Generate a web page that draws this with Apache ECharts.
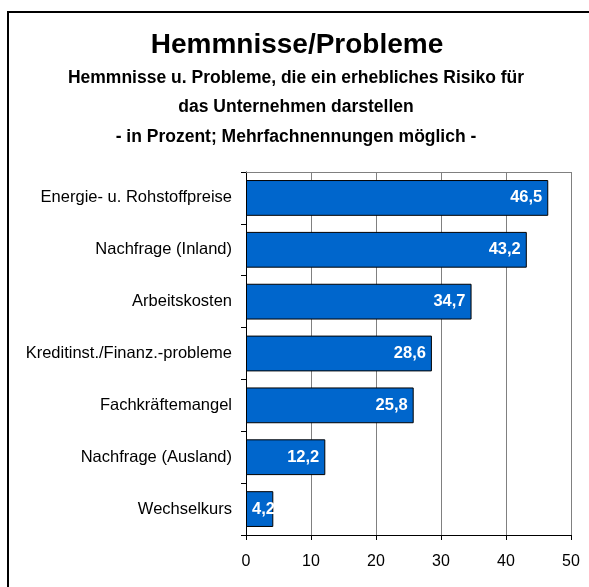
<!DOCTYPE html>
<html>
<head>
<meta charset="utf-8">
<script src="https://cdn.jsdelivr.net/npm/echarts@6/dist/echarts.min.js"></script>
<style>
  html, body { margin: 0; height: 100%; background: #fff; }
  #main { width: 589px; height: 587px; }
</style>
</head>
<body>
<div id="main"></div>
<script>
// categories, top to bottom
var categories = ['Energie- u. Rohstoffpreise', 'Nachfrage (Inland)', 'Arbeitskosten',
  'Kreditinst./Finanz.-probleme', 'Fachkräftemangel', 'Nachfrage (Ausland)', 'Wechselkurs'];
var values = [46.5, 43.2, 34.7, 28.6, 25.8, 12.2, 4.2];
var xTicks = [0, 10, 20, 30, 40, 50];

var titleLines = ['Hemmnisse u. Probleme, die ein erhebliches Risiko für',
  'das Unternehmen darstellen', '- in Prozent; Mehrfachnennungen möglich -'];

var chart = echarts.init(document.getElementById('main'));
var font = 'Liberation Sans, Arial, sans-serif';

// short bars: label sits at the left end and may run past the bar
var barData = values.map(function (v) {
  return v < 8 ? { value: v, label: { position: 'insideLeft', distance: 6 } } : v;
});

chart.setOption({
  animation: false,
  textStyle: { fontFamily: font },
  graphic: [
    { type: 'rect', shape: { x: 8, y: 12, width: 640, height: 640 },
      style: { fill: 'none', stroke: '#000', lineWidth: 2 } },
    { type: 'text', x: 297, y: 45, style: { text: 'Hemmnisse/Probleme', font: 'bold 28px ' + font,
      fill: '#000', align: 'center', verticalAlign: 'middle' } },
    { type: 'text', x: 296, y: 78, style: { text: titleLines[0], font: 'bold 17.5px ' + font,
      fill: '#000', align: 'center', verticalAlign: 'middle' } },
    { type: 'text', x: 296, y: 107, style: { text: titleLines[1], font: 'bold 17.5px ' + font,
      fill: '#000', align: 'center', verticalAlign: 'middle' } },
    { type: 'text', x: 296, y: 137, style: { text: titleLines[2], font: 'bold 17.5px ' + font,
      fill: '#000', align: 'center', verticalAlign: 'middle' } }
  ],
  grid: { left: 246, right: 18, top: 172, bottom: 52, containLabel: false },
  xAxis: [{
    type: 'value', min: 0, max: 50, interval: 10,
    axisLine: { show: true, lineStyle: { color: '#000', width: 1 } },
    axisTick: { show: true, length: 5, lineStyle: { color: '#000' } },
    axisLabel: { color: '#000', fontSize: 16, margin: 19,
      formatter: function (v) { return xTicks.indexOf(v) >= 0 ? String(v) : ''; } },
    splitLine: { show: true, lineStyle: { color: '#808080', width: 1 } }
  }, {
    type: 'value', position: 'top', min: 0, max: 50, interval: 10,
    axisLine: { show: true, lineStyle: { color: '#808080', width: 1 } },
    axisTick: { show: false }, axisLabel: { show: false }, splitLine: { show: false }
  }],
  yAxis: {
    type: 'category', data: categories, inverse: true,
    axisLine: { show: true, lineStyle: { color: '#000', width: 1 } },
    axisTick: { show: true, length: 5, lineStyle: { color: '#000' } },
    axisLabel: { color: '#000', fontSize: 16.5, margin: 14 }
  },
  series: [{
    type: 'bar', data: barData, xAxisIndex: 0,
    barCategoryGap: '31%',
    itemStyle: { color: '#0066cc', borderColor: '#000', borderWidth: 1 },
    label: {
      show: true, position: 'insideRight', distance: 6, color: '#fff',
      fontWeight: 'bold', fontSize: 16.5,
      formatter: function (p) { return p.value.toFixed(1).replace('.', ','); }
    }
  }]
});
</script>
</body>
</html>
